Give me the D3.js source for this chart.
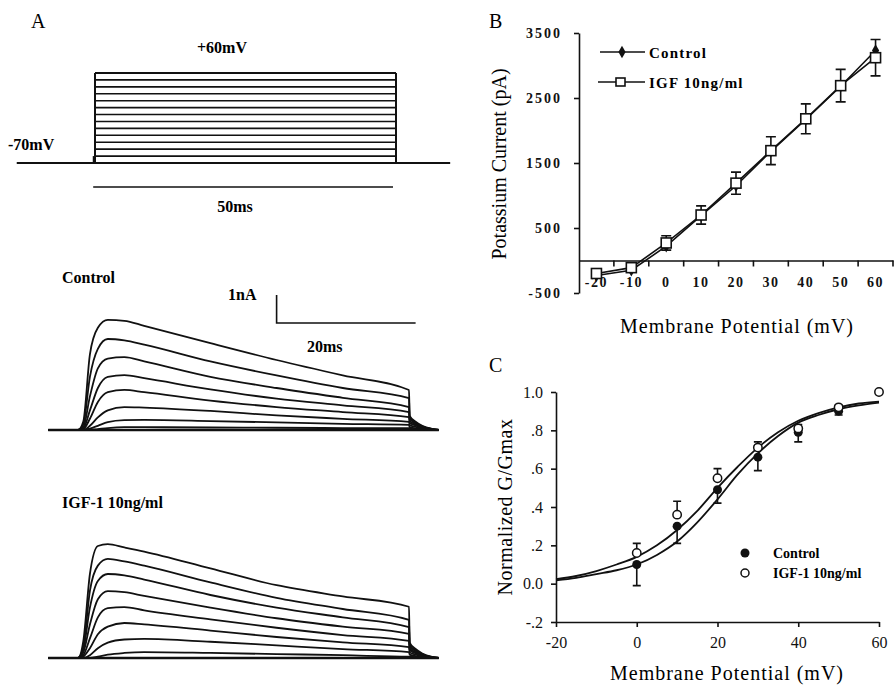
<!DOCTYPE html>
<html>
<head>
<meta charset="utf-8">
<script src="https://cdn.jsdelivr.net/npm/d3@7"></script>
<style>
  body { margin: 0; background: #fff; }
  svg { display: block; font-family: "Liberation Serif", "DejaVu Serif", serif; }
  .lbl { font-weight: bold; font-size: 16px; }
</style>
</head>
<body>
<svg id="fig" width="895" height="688"></svg>
<script>
/***************************************************************
    Data
****************************************************************/
// A: voltage protocol (mV), steps from the holding level
const holdingPotential = -70;
const protocolSteps = [-60, -50, -40, -30, -20, -10, 0, 10, 20, 30, 40, 50, 60];

// A: current traces (nA) sampled at these times (ms from pulse onset)
const traceTimes = [-4.5, 0, 0.8, 1.8, 3, 4.5, 7, 10, 20, 30, 40, 50, 50.1, 51, 52, 53.5, 54.5];
const controlTraces = [
    [0, 0, 0.3, 2.7, 3.65, 3.93, 3.9, 3.72, 3.1, 2.5, 1.95, 1.43, 0.5, 0.3, 0.15, 0.04, 0],
    [0, 0, 0.2, 1.9, 2.9, 3.25, 3.2, 3.05, 2.45, 1.95, 1.5, 1.14, 0.45, 0.27, 0.13, 0.03, 0],
    [0, 0, 0.1, 1.2, 2.2, 2.55, 2.6, 2.45, 1.9, 1.5, 1.15, 0.82, 0.4, 0.24, 0.12, 0.03, 0],
    [0, 0, 0.05, 0.7, 1.5, 1.9, 1.96, 1.85, 1.45, 1.12, 0.88, 0.64, 0.33, 0.2, 0.1, 0.02, 0],
    [0, 0, 0.03, 0.4, 1.0, 1.35, 1.43, 1.35, 1.05, 0.82, 0.64, 0.46, 0.26, 0.16, 0.08, 0.02, 0],
    [0, 0, 0, 0.15, 0.45, 0.7, 0.82, 0.8, 0.68, 0.52, 0.4, 0.29, 0.18, 0.11, 0.06, 0.01, 0],
    [0, 0, 0, 0.05, 0.15, 0.28, 0.35, 0.36, 0.32, 0.27, 0.22, 0.18, 0.1, 0.06, 0.03, 0.01, 0],
    [0, 0, 0, 0, 0.03, 0.07, 0.1, 0.1, 0.09, 0.08, 0.07, 0.07, 0.05, 0.03, 0.02, 0, 0]
];
const igfTraces = [
    [0, 0, 0.6, 3.0, 4.0, 4.07, 3.95, 3.8, 3.2, 2.6, 2.2, 1.83, 0.55, 0.32, 0.16, 0.04, 0],
    [0, 0, 0.4, 2.4, 3.3, 3.54, 3.45, 3.3, 2.7, 2.15, 1.75, 1.36, 0.48, 0.28, 0.14, 0.03, 0],
    [0, 0, 0.3, 1.8, 2.75, 3.0, 2.95, 2.8, 2.25, 1.8, 1.45, 1.1, 0.42, 0.25, 0.12, 0.03, 0],
    [0, 0, 0.2, 1.2, 2.1, 2.39, 2.35, 2.22, 1.8, 1.42, 1.12, 0.86, 0.35, 0.21, 0.1, 0.02, 0],
    [0, 0, 0.1, 0.7, 1.45, 1.78, 1.82, 1.7, 1.38, 1.08, 0.82, 0.61, 0.28, 0.17, 0.08, 0.02, 0],
    [0, 0, 0.05, 0.35, 0.85, 1.12, 1.25, 1.2, 0.98, 0.75, 0.56, 0.39, 0.2, 0.12, 0.06, 0.01, 0],
    [0, 0, 0, 0.1, 0.35, 0.55, 0.66, 0.68, 0.58, 0.45, 0.32, 0.21, 0.12, 0.07, 0.03, 0.01, 0],
    [0, 0, 0, 0, 0.05, 0.12, 0.18, 0.21, 0.18, 0.14, 0.1, 0.05, 0.05, 0.03, 0.02, 0, 0]
];

// B: I-V relation (pA)
const ivVoltages = [-20, -10, 0, 10, 20, 30, 40, 50, 60];
const ivControl = [-230, -150, 220, 690, 1150, 1680, 2170, 2680, 3230];
const ivIgf = [-200, -110, 270, 700, 1190, 1690, 2180, 2690, 3120];
const ivErr = [40, 50, 110, 140, 170, 215, 230, 250, 280];
const ivYTicks = [-500, 500, 1500, 2500, 3500];

// C: normalized conductance
const gvVoltages = [0, 10, 20, 30, 40, 50, 60];
const gvControl = [0.10, 0.30, 0.49, 0.66, 0.79, 0.90, null];
const gvControlErr = [0.11, 0.09, 0.07, 0.07, 0.05, 0.02, null];
const gvIgf = [0.16, 0.36, 0.55, 0.71, 0.81, 0.92, 1.0];
const gvIgfErr = [0.05, 0.07, 0.05, 0.03, 0.02, 0.01, 0];
const fitVoltages = [-20, -15, -10, -5, 0, 5, 10, 15, 20, 25, 30, 35, 40, 45, 50, 55, 60];
const fitControl = [0.017, 0.03, 0.05, 0.07, 0.1, 0.15, 0.22, 0.32, 0.44, 0.57, 0.68, 0.77, 0.84, 0.88, 0.91, 0.93, 0.945];
const fitIgf = [0.023, 0.04, 0.066, 0.10, 0.14, 0.2, 0.28, 0.38, 0.5, 0.61, 0.71, 0.79, 0.85, 0.89, 0.92, 0.94, 0.95];
const gvYTicks = [-0.2, 0, 0.2, 0.4, 0.6, 0.8, 1.0];
const gvYLabels = ["-.2", "0.0", ".2", ".4", ".6", ".8", "1.0"];
const gvXTicks = [-20, 0, 20, 40, 60];

/***************************************************************
    Drawing
****************************************************************/
const svg = d3.select("#fig");
svg.append("rect").attr("width", 895).attr("height", 688).attr("fill", "#fff");

drawProtocol();
drawTraces(controlTraces, 430, "Control", 283, true);
drawTraces(igfTraces, 658, "IGF-1 10ng/ml", 508, false);
drawIV();
drawGV();

function panelLetter(txt, x, y) {
    svg.append("text").attr("x", x).attr("y", y).attr("font-size", 20).text(txt);
}

function drawProtocol() {
    panelLetter("A", 31, 28);
    const x = d3.scaleLinear().domain([0, 50]).range([95, 396]);
    const y = d3.scaleLinear().domain([-70, 60]).range([163, 73]);
    const g = svg.append("g").attr("stroke", "#111").attr("fill", "none");

    // holding line
    g.append("line").attr("x1", x(-13)).attr("x2", x(59))
        .attr("y1", y(holdingPotential)).attr("y2", y(holdingPotential)).attr("stroke-width", 2);
    // step lines
    g.selectAll(".step").data(protocolSteps).enter().append("line")
        .attr("x1", x(0)).attr("x2", x(50))
        .attr("y1", d => y(d)).attr("y2", d => y(d))
        .attr("stroke-width", d => d === 60 ? 2 : 1.6);
    // pulse edges
    [0, 50].forEach(t => {
        g.append("line").attr("x1", x(t)).attr("x2", x(t))
            .attr("y1", y(holdingPotential)).attr("y2", y(60)).attr("stroke-width", 2);
    });
    g.append("line").attr("x1", x(0) - 1.5).attr("x2", x(0) - 1.5)
        .attr("y1", y(holdingPotential)).attr("y2", y(-60)).attr("stroke-width", 1.5);
    // 50 ms bar
    g.append("line").attr("x1", x(-0.3)).attr("x2", x(49.5))
        .attr("y1", 187).attr("y2", 187).attr("stroke-width", 1.6);

    svg.append("text").attr("class", "lbl").attr("x", 222).attr("y", 53)
        .attr("text-anchor", "middle").text("+60mV");
    svg.append("text").attr("class", "lbl").attr("x", 8).attr("y", 150).text("-70mV");
    svg.append("text").attr("class", "lbl").attr("x", 235).attr("y", 212)
        .attr("text-anchor", "middle").text("50ms");
}

function drawTraces(traces, baseY, title, titleY, withScaleBar) {
    const x = d3.scaleLinear().domain([0, 50]).range([78, 409]);
    const y = d3.scaleLinear().domain([0, 1]).range([baseY, baseY - 28]);
    const line = d3.line()
        .x((d, i) => x(traceTimes[i]))
        .y(d => y(d))
        .curve(d3.curveMonotoneX);

    const g = svg.append("g");
    g.append("line").attr("x1", x(-4.5)).attr("x2", x(54.5))
        .attr("y1", y(0)).attr("y2", y(0))
        .attr("stroke", "#111").attr("stroke-width", 2.4);
    g.selectAll("path.trace").data(traces).enter().append("path")
        .attr("class", "trace")
        .attr("d", line)
        .attr("fill", "none").attr("stroke", "#111").attr("stroke-width", 1.8);

    svg.append("text").attr("class", "lbl").attr("x", 62).attr("y", titleY).text(title);

    if (withScaleBar) {
        // 1 nA / 20 ms
        const x0 = x(30), y0 = y(3.82);
        g.append("path")
            .attr("d", `M${x0},${y(4.82)}V${y0}H${x(51)}`)
            .attr("fill", "none").attr("stroke", "#111").attr("stroke-width", 1.6);
        svg.append("text").attr("class", "lbl").attr("x", 228).attr("y", 300).text("1nA");
        svg.append("text").attr("class", "lbl").attr("x", 307).attr("y", 352).text("20ms");
    }
}

function drawIV() {
    panelLetter("B", 489, 28);
    const band = d3.scaleBand().domain(ivVoltages).range([579, 893]);
    const x = v => band(v) + band.bandwidth() / 2;
    const y = d3.scaleLinear().domain([-500, 3500]).range([293, 33]);
    const g = svg.append("g");

    // y axis
    g.append("g").attr("transform", "translate(579,0)")
        .call(d3.axisLeft(y).tickValues(ivYTicks).tickSizeInner(5).tickSizeOuter(0)
            .tickPadding(12).tickFormat(d => String(d)))
        .call(a => a.selectAll("path,line").attr("stroke", "#111").attr("stroke-width", 1.6))
        .call(a => a.selectAll("text").attr("font-family", "Liberation Serif")
            .attr("font-size", 14).attr("font-weight", "bold").attr("letter-spacing", 2).attr("fill", "#111"));

    // x axis along zero current
    g.append("g").attr("transform", `translate(0,${y(0)})`)
        .call(d3.axisBottom(band).tickSize(0).tickPadding(17).tickFormat(d => String(d)))
        .call(a => a.select("path").attr("stroke", "#111").attr("stroke-width", 1.6))
        .call(a => a.selectAll("text").attr("font-family", "Liberation Serif")
            .attr("font-size", 14).attr("font-weight", "bold").attr("letter-spacing", 1.5).attr("fill", "#111"));
    g.selectAll(".xtick").data(ivVoltages).enter().append("line")
        .attr("x1", d => band(d) + band.bandwidth()).attr("x2", d => band(d) + band.bandwidth())
        .attr("y1", y(0)).attr("y2", y(0) + 6)
        .attr("stroke", "#111").attr("stroke-width", 1.6);

    // lines
    const lineOf = vals => d3.line().x((d, i) => x(ivVoltages[i])).y(d => y(d))(vals);
    g.append("path").attr("d", lineOf(ivControl)).attr("fill", "none").attr("stroke", "#111").attr("stroke-width", 1.6);
    g.append("path").attr("d", lineOf(ivIgf)).attr("fill", "none").attr("stroke", "#111").attr("stroke-width", 1.6);

    // error bars
    g.selectAll(".err").data(ivVoltages).enter().append("path")
        .attr("d", (d, i) => {
            const cx = x(d), t = y(ivIgf[i] + ivErr[i]), b = y(ivIgf[i] - ivErr[i]);
            return `M${cx - 5},${t}H${cx + 5}M${cx},${t}V${b}M${cx - 5},${b}H${cx + 5}`;
        })
        .attr("fill", "none").attr("stroke", "#111").attr("stroke-width", 1.6);

    // markers
    g.selectAll(".dia").data(ivControl).enter().append("path")
        .attr("transform", (d, i) => `translate(${x(ivVoltages[i])},${y(d)})`)
        .attr("d", d3.symbol(d3.symbolDiamond, 45)).attr("fill", "#111");
    g.selectAll(".sq").data(ivIgf).enter().append("rect")
        .attr("x", (d, i) => x(ivVoltages[i]) - 5).attr("y", d => y(d) - 5)
        .attr("width", 10).attr("height", 10)
        .attr("fill", "#fff").attr("stroke", "#111").attr("stroke-width", 1.6);

    // legend
    const lg = svg.append("g");
    lg.append("line").attr("x1", 600).attr("x2", 645).attr("y1", 52).attr("y2", 52).attr("stroke", "#111").attr("stroke-width", 1.6);
    lg.append("path").attr("transform", "translate(622,52)").attr("d", d3.symbol(d3.symbolDiamond, 45)).attr("fill", "#111");
    lg.append("line").attr("x1", 598).attr("x2", 645).attr("y1", 82).attr("y2", 82).attr("stroke", "#111").attr("stroke-width", 1.6);
    lg.append("rect").attr("x", 616).attr("y", 78).attr("width", 9).attr("height", 8)
        .attr("fill", "#fff").attr("stroke", "#111").attr("stroke-width", 1.6);
    lg.append("text").attr("x", 649).attr("y", 58).attr("font-size", 15).attr("font-weight", "bold")
        .attr("letter-spacing", 1.2).text("Control");
    lg.append("text").attr("x", 649).attr("y", 88).attr("font-size", 15).attr("font-weight", "bold")
        .attr("letter-spacing", 1.2).text("IGF 10ng/ml");

    // titles
    svg.append("text").attr("x", 737).attr("y", 333).attr("text-anchor", "middle")
        .attr("font-size", 20).attr("letter-spacing", 1).text("Membrane Potential (mV)");
    svg.append("text").attr("transform", "translate(506,164) rotate(-90)").attr("text-anchor", "middle")
        .attr("font-size", 20).text("Potassium Current (pA)");
}

function drawGV() {
    panelLetter("C", 489, 372);
    const x = d3.scaleLinear().domain([-20, 60]).range([556, 879]);
    const y = d3.scaleLinear().domain([-0.2, 1.0]).range([622, 392]);
    const g = svg.append("g");

    g.append("g").attr("transform", "translate(556,0)")
        .call(d3.axisLeft(y).tickValues(gvYTicks).tickSizeInner(5).tickSizeOuter(0).tickPadding(8)
            .tickFormat((d, i) => gvYLabels[i]))
        .call(a => a.selectAll("path,line").attr("stroke", "#111").attr("stroke-width", 1.6))
        .call(a => a.selectAll("text").attr("font-family", "Liberation Serif")
            .attr("font-size", 16).attr("fill", "#111"));
    g.append("g").attr("transform", "translate(0,622)")
        .call(d3.axisBottom(x).tickValues(gvXTicks).tickSizeInner(5).tickSizeOuter(0).tickPadding(10)
            .tickFormat(d => String(d)))
        .call(a => a.selectAll("path,line").attr("stroke", "#111").attr("stroke-width", 1.6))
        .call(a => a.selectAll("text").attr("font-family", "Liberation Serif")
            .attr("font-size", 16).attr("fill", "#111"));

    // fitted curves
    const fit = vals => d3.line().x((d, i) => x(fitVoltages[i])).y(d => y(d)).curve(d3.curveMonotoneX)(vals);
    g.append("path").attr("d", fit(fitControl)).attr("fill", "none").attr("stroke", "#111").attr("stroke-width", 1.8);
    g.append("path").attr("d", fit(fitIgf)).attr("fill", "none").attr("stroke", "#111").attr("stroke-width", 1.8);

    // error bars: control downward, IGF upward
    const bar = (cx, v0, v1) => `M${cx},${y(v0)}V${y(v1)}M${cx - 4},${y(v1)}H${cx + 4}`;
    gvVoltages.forEach((v, i) => {
        if (gvControl[i] !== null)
            g.append("path").attr("d", bar(x(v), gvControl[i], gvControl[i] - gvControlErr[i]))
                .attr("fill", "none").attr("stroke", "#111").attr("stroke-width", 1.6);
        if (gvIgfErr[i] > 0)
            g.append("path").attr("d", bar(x(v), gvIgf[i], gvIgf[i] + gvIgfErr[i]))
                .attr("fill", "none").attr("stroke", "#111").attr("stroke-width", 1.6);
    });

    g.selectAll(".ctl").data(gvVoltages.filter((v, i) => gvControl[i] !== null)).enter().append("circle")
        .attr("cx", d => x(d)).attr("cy", (d, i) => y(gvControl[i])).attr("r", 4.5).attr("fill", "#111");
    g.selectAll(".igf").data(gvVoltages).enter().append("circle")
        .attr("cx", d => x(d)).attr("cy", (d, i) => y(gvIgf[i])).attr("r", 4.2)
        .attr("fill", "#fff").attr("stroke", "#111").attr("stroke-width", 1.5);

    // legend
    g.append("circle").attr("cx", 745).attr("cy", 553).attr("r", 4.5).attr("fill", "#111");
    g.append("circle").attr("cx", 745).attr("cy", 573).attr("r", 4).attr("fill", "#fff").attr("stroke", "#111").attr("stroke-width", 1.5);
    g.append("text").attr("x", 773).attr("y", 558).attr("font-size", 14).attr("font-weight", "bold").text("Control");
    g.append("text").attr("x", 773).attr("y", 578).attr("font-size", 14).attr("font-weight", "bold").text("IGF-1 10ng/ml");

    svg.append("text").attr("x", 727).attr("y", 680).attr("text-anchor", "middle")
        .attr("font-size", 20).attr("letter-spacing", 1).text("Membrane Potential (mV)");
    svg.append("text").attr("transform", "translate(512,507) rotate(-90)").attr("text-anchor", "middle")
        .attr("font-size", 20).attr("letter-spacing", 0.5).text("Normalized G/Gmax");
}
</script>
</body>
</html>
